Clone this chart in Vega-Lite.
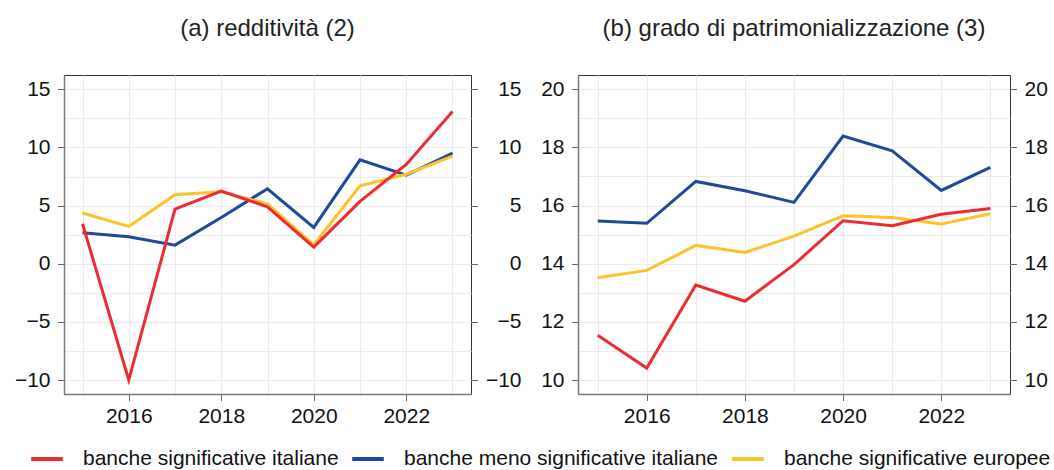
{
  "$schema": "https://vega.github.io/schema/vega-lite/v6.json",
  "padding": {"left": 13, "top": 16, "right": 5, "bottom": 5},
  "datasets": {
    "a": [
      {"anno": 2015, "serie": "banche meno significative italiane", "valore": 2.66},
      {"anno": 2016, "serie": "banche meno significative italiane", "valore": 2.32},
      {"anno": 2017, "serie": "banche meno significative italiane", "valore": 1.6},
      {"anno": 2018, "serie": "banche meno significative italiane", "valore": 3.98},
      {"anno": 2019, "serie": "banche meno significative italiane", "valore": 6.45},
      {"anno": 2020, "serie": "banche meno significative italiane", "valore": 3.12},
      {"anno": 2021, "serie": "banche meno significative italiane", "valore": 8.94},
      {"anno": 2022, "serie": "banche meno significative italiane", "valore": 7.62},
      {"anno": 2023, "serie": "banche meno significative italiane", "valore": 9.51},
      {"anno": 2015, "serie": "banche significative europee", "valore": 4.36},
      {"anno": 2016, "serie": "banche significative europee", "valore": 3.21},
      {"anno": 2017, "serie": "banche significative europee", "valore": 5.93},
      {"anno": 2018, "serie": "banche significative europee", "valore": 6.19},
      {"anno": 2019, "serie": "banche significative europee", "valore": 5.16},
      {"anno": 2020, "serie": "banche significative europee", "valore": 1.63},
      {"anno": 2021, "serie": "banche significative europee", "valore": 6.7},
      {"anno": 2022, "serie": "banche significative europee", "valore": 7.7},
      {"anno": 2023, "serie": "banche significative europee", "valore": 9.25},
      {"anno": 2015, "serie": "banche significative italiane", "valore": 3.44},
      {"anno": 2016, "serie": "banche significative italiane", "valore": -10.0},
      {"anno": 2017, "serie": "banche significative italiane", "valore": 4.7},
      {"anno": 2018, "serie": "banche significative italiane", "valore": 6.25},
      {"anno": 2019, "serie": "banche significative italiane", "valore": 4.9},
      {"anno": 2020, "serie": "banche significative italiane", "valore": 1.43},
      {"anno": 2021, "serie": "banche significative italiane", "valore": 5.36},
      {"anno": 2022, "serie": "banche significative italiane", "valore": 8.54},
      {"anno": 2023, "serie": "banche significative italiane", "valore": 13.1}
    ],
    "b": [
      {"anno": 2015, "serie": "banche meno significative italiane", "valore": 15.47},
      {"anno": 2016, "serie": "banche meno significative italiane", "valore": 15.39},
      {"anno": 2017, "serie": "banche meno significative italiane", "valore": 16.83},
      {"anno": 2018, "serie": "banche meno significative italiane", "valore": 16.51},
      {"anno": 2019, "serie": "banche meno significative italiane", "valore": 16.11},
      {"anno": 2020, "serie": "banche meno significative italiane", "valore": 18.39},
      {"anno": 2021, "serie": "banche meno significative italiane", "valore": 17.88},
      {"anno": 2022, "serie": "banche meno significative italiane", "valore": 16.52},
      {"anno": 2023, "serie": "banche meno significative italiane", "valore": 17.31},
      {"anno": 2015, "serie": "banche significative europee", "valore": 13.52},
      {"anno": 2016, "serie": "banche significative europee", "valore": 13.77},
      {"anno": 2017, "serie": "banche significative europee", "valore": 14.63},
      {"anno": 2018, "serie": "banche significative europee", "valore": 14.39},
      {"anno": 2019, "serie": "banche significative europee", "valore": 14.95},
      {"anno": 2020, "serie": "banche significative europee", "valore": 15.65},
      {"anno": 2021, "serie": "banche significative europee", "valore": 15.59},
      {"anno": 2022, "serie": "banche significative europee", "valore": 15.37},
      {"anno": 2023, "serie": "banche significative europee", "valore": 15.72},
      {"anno": 2015, "serie": "banche significative italiane", "valore": 11.54},
      {"anno": 2016, "serie": "banche significative italiane", "valore": 10.41},
      {"anno": 2017, "serie": "banche significative italiane", "valore": 13.27},
      {"anno": 2018, "serie": "banche significative italiane", "valore": 12.71},
      {"anno": 2019, "serie": "banche significative italiane", "valore": 13.97},
      {"anno": 2020, "serie": "banche significative italiane", "valore": 15.48},
      {"anno": 2021, "serie": "banche significative italiane", "valore": 15.31},
      {"anno": 2022, "serie": "banche significative italiane", "valore": 15.7},
      {"anno": 2023, "serie": "banche significative italiane", "valore": 15.9}
    ]
  },
  "hconcat": [
    {
      "width": 407,
      "height": 319,
      "title": {"text": "(a) redditività (2)"},
      "data": {"name": "a"},
      "layer": [
        {
          "mark": {"type": "line", "strokeWidth": 3},
          "encoding": {
            "x": {
              "field": "anno", "type": "quantitative",
              "scale": {"domain": [2014.6, 2023.4], "nice": false, "zero": false},
              "axis": {
                "title": null, "values": [2015, 2016, 2017, 2018, 2019, 2020, 2021, 2022, 2023],
                "format": "d", "grid": true, "labelPadding": 5,
                "labelExpr": "datum.value % 2 === 0 ? datum.label : ''",
                "tickOpacity": {"condition": {"test": "datum.value % 2 === 0", "value": 1}, "value": 0}
              }
            },
            "y": {
              "field": "valore", "type": "quantitative",
              "scale": {"domain": [-11.2, 16.23], "nice": false, "zero": false},
              "axis": {
                "title": null, "orient": "left", "grid": true,
                "values": [-10, -7.5, -5, -2.5, 0, 2.5, 5, 7.5, 10, 12.5, 15],
                "labelExpr": "datum.value % 5 === 0 ? datum.label : ''",
                "tickOpacity": {"condition": {"test": "datum.value % 5 === 0", "value": 1}, "value": 0}
              }
            },
            "color": {
              "field": "serie", "type": "nominal",
              "scale": {
                "domain": ["banche significative italiane", "banche meno significative italiane", "banche significative europee"],
                "range": ["#EE2B33", "#1F4A99", "#FDC22C"]
              },
              "legend": {"title": null}
            }
          }
        },
        {
          "mark": {"type": "line", "opacity": 0},
          "encoding": {
            "x": {"field": "anno", "type": "quantitative"},
            "y": {
              "field": "valore", "type": "quantitative",
              "axis": {"title": null, "orient": "right", "grid": false, "domain": false, "labelAlign": "right", "labelPadding": 43.5, "values": [-10, -5, 0, 5, 10, 15]}
            },
            "detail": {"field": "serie"}
          }
        }
      ],
      "resolve": {"axis": {"y": "independent"}}
    },
    {
      "width": 432,
      "height": 319,
      "title": {"text": "(b) grado di patrimonializzazione (3)"},
      "data": {"name": "b"},
      "layer": [
        {
          "mark": {"type": "line", "strokeWidth": 3},
          "encoding": {
            "x": {
              "field": "anno", "type": "quantitative",
              "scale": {"domain": [2014.6, 2023.4], "nice": false, "zero": false},
              "axis": {
                "title": null, "values": [2015, 2016, 2017, 2018, 2019, 2020, 2021, 2022, 2023],
                "format": "d", "grid": true, "labelPadding": 5,
                "labelExpr": "datum.value % 2 === 0 ? datum.label : ''",
                "tickOpacity": {"condition": {"test": "datum.value % 2 === 0", "value": 1}, "value": 0}
              }
            },
            "y": {
              "field": "valore", "type": "quantitative",
              "scale": {"domain": [9.52, 20.49], "nice": false, "zero": false},
              "axis": {
                "title": null, "orient": "left", "grid": true,
                "values": [10, 11, 12, 13, 14, 15, 16, 17, 18, 19, 20],
                "labelExpr": "datum.value % 2 === 0 ? datum.label : ''",
                "tickOpacity": {"condition": {"test": "datum.value % 2 === 0", "value": 1}, "value": 0}
              }
            },
            "color": {
              "field": "serie", "type": "nominal",
              "scale": {
                "domain": ["banche significative italiane", "banche meno significative italiane", "banche significative europee"],
                "range": ["#EE2B33", "#1F4A99", "#FDC22C"]
              },
              "legend": {"title": null}
            }
          }
        },
        {
          "mark": {"type": "line", "opacity": 0},
          "encoding": {
            "x": {"field": "anno", "type": "quantitative"},
            "y": {
              "field": "valore", "type": "quantitative",
              "axis": {"title": null, "orient": "right", "grid": false, "domain": false, "values": [10, 12, 14, 16, 18, 20]}
            },
            "detail": {"field": "serie"}
          }
        }
      ],
      "resolve": {"axis": {"y": "independent"}}
    }
  ],
  "spacing": 18,
  "config": {
    "font": "Liberation Sans",
    "view": {"stroke": "#333333", "strokeWidth": 1},
    "axis": {
      "labelFontSize": 21, "labelColor": "#111111", "tickColor": "#666666", "tickSize": 6.5,
      "tickWidth": 1, "labelPadding": 7.5, "domainColor": "#7a7a7a", "domainWidth": 1.5,
      "gridColor": "#EBEBEB", "gridWidth": 1
    },
    "title": {"fontSize": 24, "fontWeight": "normal", "color": "#222222", "offset": 34, "baseline": "bottom", "frame": "group", "anchor": "middle"},
    "legend": {
      "orient": "none", "legendX": -35, "legendY": 366, "direction": "horizontal", "symbolType": "stroke", "symbolSize": 1000,
      "symbolStrokeWidth": 4, "labelFontSize": 21, "labelColor": "#111111", "labelOffset": 18,
      "columnPadding": 5, "labelLimit": 400
    }
  }
}
